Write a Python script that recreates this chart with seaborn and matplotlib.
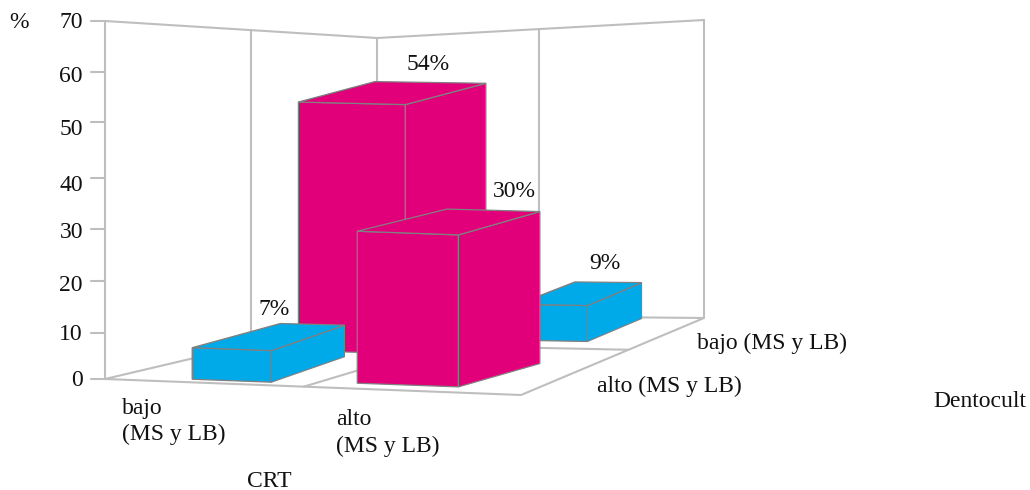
import numpy as np
import matplotlib
matplotlib.use("Agg")
import matplotlib.pyplot as plt
from matplotlib.patches import Polygon
import seaborn as sns

# Survey results: share of cases per CRT / Dentocult level
crt_levels = ["bajo\n(MS y LB)", "alto\n(MS y LB)"]
dentocult_levels = ["alto (MS y LB)", "bajo (MS y LB)"]
percentages = [7, 30, 54, 9]
axis_ticks = [0, 10, 20, 30, 40, 50, 60, 70]

# Chart furniture
AXIS_TICK_Y = np.array([379, 333, 281, 229, 178, 122, 72, 21], float)
AXIS_LABEL_Y = [380, 334, 285, 232, 185, 129, 76, 23]
FLOOR = dict(p00=(105, 379), p10=(521, 395), p11=(704, 318), p01=(377, 315))
WALL_HEIGHT = dict(h00=358, h10=385, h01=277, h11=298)
# Footprints: front-edge u range, back-edge u range, v range
BAR_FOOT = [(.211, .416, .196, .375, .03, .33),
            (.61, .84, .656, .88, .05, .31),
            (.20, .498, .19, .522, .39, .715),
            (.673, .855, .643, .835, .60, .98)]
BAR_COLOUR = ["#00A9E8", "#E2007A", "#E2007A", "#00A9E8"]
VALUE_LABEL_XY = [(274, 309), (514, 191), (428, 65), (605, 263)]
DRAW_ORDER = [2, 3, 0, 1]
GREY, EDGE = "#BEBEBE", "#808080"

sns.set_theme(style="white")
plt.rcParams["font.family"] = ["Liberation Serif", "DejaVu Serif"]
FS = 17
TXT = "#111111"


def floor_matrix():
    """Homography taking the unit floor square to figure pixels."""
    (x0, y0), (x1, y1), (x2, y2), (x3, y3) = FLOOR["p00"], FLOOR["p10"], FLOOR["p11"], FLOOR["p01"]
    s = np.array([x0 - x1 + x2 - x3, y0 - y1 + y2 - y3], float)
    d1 = np.array([x1 - x2, y1 - y2], float)
    d2 = np.array([x3 - x2, y3 - y2], float)
    det = d1[0] * d2[1] - d1[1] * d2[0]
    g = (s[0] * d2[1] - s[1] * d2[0]) / det
    h = (d1[0] * s[1] - d1[1] * s[0]) / det
    return np.array([[x1 * (1 + g) - x0, x3 * (1 + h) - x0, x0],
                     [y1 * (1 + g) - y0, y3 * (1 + h) - y0, y0],
                     [g, h, 1.0]])


M = floor_matrix()
AXIS_FRACTION = (AXIS_TICK_Y[0] - AXIS_TICK_Y) / (AXIS_TICK_Y[0] - AXIS_TICK_Y[-1])


def height_at(u, v):
    return (WALL_HEIGHT["h00"] * (1 - u) * (1 - v) + WALL_HEIGHT["h10"] * u * (1 - v)
            + WALL_HEIGHT["h01"] * (1 - u) * v + WALL_HEIGHT["h11"] * u * v)


def project(u, v, z=0.0, height=None):
    """Depth-axes position (u, v) at value z to pixel coordinates."""
    px, py, w = M @ np.array([u, v, 1.0])
    height = height_at(u, v) if height is None else height
    return px / w, py / w - np.interp(z, axis_ticks, AXIS_FRACTION) * height


fig = plt.figure(figsize=(10.3, 4.9), dpi=100)
ax = fig.add_axes([0, 0, 1, 1])
ax.set_xlim(0, 1030)
ax.set_ylim(490, 0)
ax.axis("off")


def wall_line(*points):
    xs, ys = zip(*points)
    ax.plot(xs, ys, color=GREY, lw=1.5, solid_joinstyle="miter", zorder=1)


top = max(axis_ticks)
corner_l, corner_b, corner_r = project(0, 0, top), project(0, 1, top), project(1, 1, top)


def divider(u, v, edge_a, edge_b):
    """Vertical wall divider, running from the floor up to the wall's top edge."""
    fx, fy = project(u, v)
    ty = np.interp(fx, [edge_a[0], edge_b[0]], [edge_a[1], edge_b[1]])
    wall_line((fx, ty), (fx, fy))


# Walls, floor outline and the grid dividers
wall_line(corner_l, corner_b, corner_r, project(1, 1))
wall_line(corner_l, project(0, 0))
wall_line(corner_b, project(0, 1))
divider(0, .46, corner_l, corner_b)
divider(.525, 1, corner_b, corner_r)
wall_line(project(0, 0), project(1, 0), project(1, 1), project(0, 1), project(0, 0))
wall_line(project(.52, 0), project(.52, 1))
wall_line(project(0, .5), project(1, .5))

# Axis ticks and their labels
for tick, py, ly in zip(axis_ticks, AXIS_TICK_Y, AXIS_LABEL_Y):
    ax.plot([91, 105], [py, py], color=GREY, lw=1.5, zorder=1)
    ax.text(83, ly, str(tick), ha="right", va="center", fontsize=FS, color=TXT)

# Bars, farthest first; each bar keeps one height scale across its footprint
for i in DRAW_ORDER:
    uf0, uf1, ub0, ub1, v0, v1 = BAR_FOOT[i]
    z = percentages[i]
    h = height_at((uf0 + uf1 + ub0 + ub1) / 4, (v0 + v1) / 2)
    fl, fr = (uf0, v0), (uf1, v0)
    br, bl = (ub1, v1), (ub0, v1)
    faces = [
        [project(*fl), project(*fr), project(*fr, z, h), project(*fl, z, h)],
        [project(*fr), project(*br), project(*br, z, h), project(*fr, z, h)],
        [project(*fl, z, h), project(*fr, z, h), project(*br, z, h), project(*bl, z, h)],
    ]
    for face in faces:
        ax.add_patch(Polygon(face, closed=True, facecolor=BAR_COLOUR[i], edgecolor=EDGE,
                             lw=0.9, joinstyle="miter", zorder=3 + DRAW_ORDER.index(i)))
    lx, ly = VALUE_LABEL_XY[i]
    ax.text(lx, ly, f"{z}%", ha="center", va="center", fontsize=FS, color=TXT, zorder=10)

# Category and axis titles
ax.text(19, 23, "%", ha="center", va="center", fontsize=FS, color=TXT)
for label, lx, ly in zip(crt_levels, [122, 336], [421.5, 433]):
    ax.text(lx, ly, label, ha="left", va="center", fontsize=FS, color=TXT, linespacing=1.33)
for label, lx, ly in zip(dentocult_levels, [597, 697], [386, 343]):
    ax.text(lx, ly, label, ha="left", va="center", fontsize=FS, color=TXT)
ax.text(933, 401, "Dentocult", ha="left", va="center", fontsize=FS, color=TXT)
ax.text(247, 481, "CRT", ha="left", va="center", fontsize=FS, color=TXT)

fig.savefig("out.png", dpi=100)
